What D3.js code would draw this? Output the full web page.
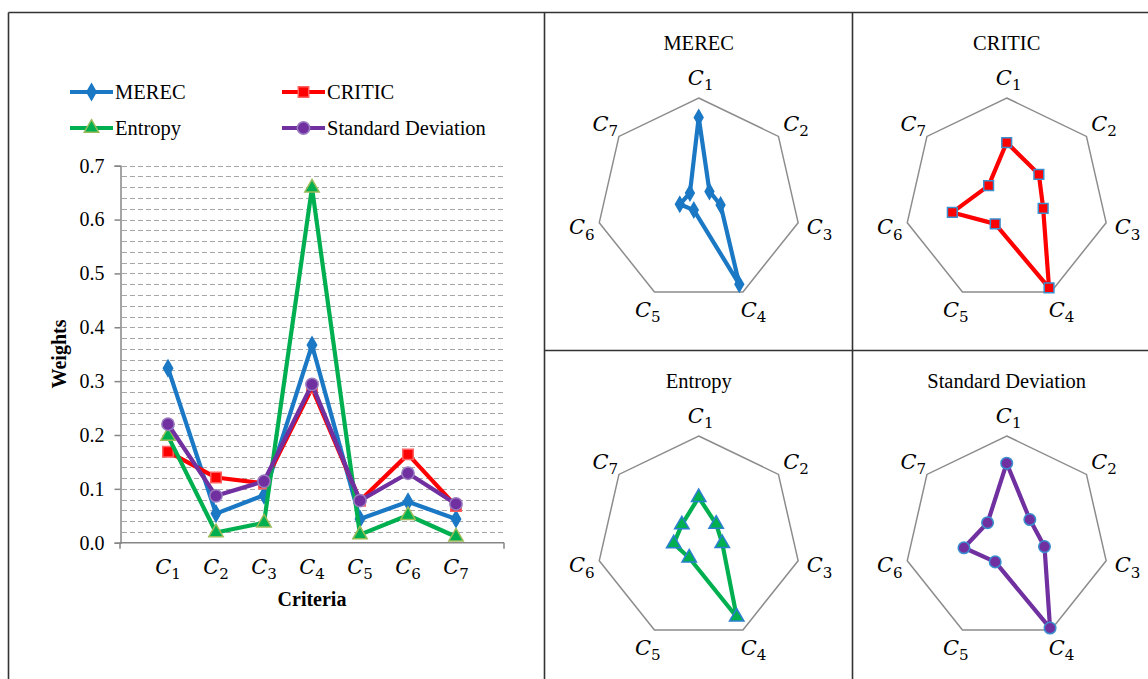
<!DOCTYPE html>
<html><head><meta charset="utf-8">
<script src="https://cdn.jsdelivr.net/npm/d3@7"></script>
<style>
html,body{margin:0;padding:0;background:#fff;}
svg{display:block;}
text{font-family:"Liberation Serif","Times New Roman",serif;fill:#000;}
text.cl{font-family:"DejaVu Serif",serif;}
</style></head>
<body>
<svg id="chart" width="1148" height="679"></svg>
<script>
// ---- data ----
const criteria = ["1","2","3","4","5","6","7"];
const seriesNames = ["MEREC","CRITIC","Entropy","Standard Deviation"];
const merec   = [0.324,0.054,0.088,0.367,0.044,0.076,0.044];
const critic  = [0.169,0.121,0.110,0.287,0.078,0.164,0.068];
const entropy = [0.198,0.019,0.037,0.659,0.015,0.051,0.011];
const stddev  = [0.220,0.087,0.114,0.294,0.078,0.129,0.072];
const yTicks = [0.0,0.1,0.2,0.3,0.4,0.5,0.6,0.7];
const radarMin = [0, 0, -0.2, 0];
const radarMax = [0.4, 0.3, 0.8, 0.3];

// ---- styles ----
const values = [merec, critic, entropy, stddev];
const colors = ["#1b78c4","#ff0000","#00b050","#7030a0"];
const markerStroke = ["#1b78c4","#ff6060","#9bbb59","#9a7cc0"];
const radarMarkerStroke = ["#1b78c4","#3a8fd0","#2a7fd0","#3a8fd0"];
const symbols = [d3.symbolDiamond, d3.symbolSquare, d3.symbolTriangle, d3.symbolCircle];
const symSize = [75, 110, 90, 120];
const radarSymSize = [65, 95, 90, 105];

const svg = d3.select("#chart");

// ---- frame ----
const frame = svg.append("g").attr("stroke","#333").attr("stroke-width",1.6);
frame.append("line").attr("x1",8.5).attr("x2",1148).attr("y1",12.5).attr("y2",12.5);
frame.append("line").attr("x1",8.5).attr("x2",8.5).attr("y1",12.5).attr("y2",679);
frame.append("line").attr("x1",544.5).attr("x2",544.5).attr("y1",12.5).attr("y2",679);
frame.append("line").attr("x1",852.5).attr("x2",852.5).attr("y1",12.5).attr("y2",679);
frame.append("line").attr("x1",544.5).attr("x2",1148).attr("y1",350.5).attr("y2",350.5);

function cLabel(sel, sub, size){
  sel.classed("cl",true);
  sel.append("tspan").attr("font-style","italic").attr("font-size",size).text("C");
  sel.append("tspan").attr("font-size",size*0.72).attr("dy",size*0.26).text(sub);
}

// ---- line chart ----
const x = d3.scalePoint().domain(criteria).range([120,504]).padding(1);
const y = d3.scaleLinear().domain([0,0.7]).range([542.7,165.7]);
const lc = svg.append("g");

// minor dashed gridlines
const minor = d3.range(1,36).map(i=>i*0.02).filter(v=>v<=0.7001);
lc.append("g").selectAll("line").data(minor).join("line")
  .attr("x1",122).attr("x2",504)
  .attr("y1",d=>Math.round(y(d))+0.5).attr("y2",d=>Math.round(y(d))+0.5)
  .attr("stroke","#a6a6a6").attr("stroke-width",1.2).attr("stroke-dasharray","5,3");

// y axis
const yAxis = d3.axisLeft(y).tickValues(yTicks).tickFormat(d3.format(".1f")).tickSize(6).tickPadding(10);
const ya = lc.append("g").attr("transform","translate(120.5,0)").call(yAxis);
ya.select(".domain").attr("stroke","#868686").attr("stroke-width",1.5);
ya.selectAll(".tick line").attr("stroke","#868686").attr("stroke-width",1.5);
ya.selectAll(".tick text").attr("font-size",20).attr("fill","#000");

// x axis line
const xa = lc.append("g");
xa.append("line").attr("x1",120).attr("x2",504).attr("y1",y(0)).attr("y2",y(0)).attr("stroke","#868686").attr("stroke-width",1.5);
xa.selectAll("line.t").data(x.range()).join("line").attr("class","t")
  .attr("x1",d=>d).attr("x2",d=>d).attr("y1",y(0)).attr("y2",y(0)+6).attr("stroke","#868686").attr("stroke-width",1.5);
xa.selectAll("text").data(criteria).join("text")
  .attr("x",d=>x(d)).attr("y",574).attr("text-anchor","middle")
  .each(function(d){cLabel(d3.select(this),d,21);});

lc.append("text").attr("x",312).attr("y",606).attr("text-anchor","middle")
  .attr("font-size",20).attr("font-weight","bold").text("Criteria");
lc.append("text").attr("transform","translate(66,354) rotate(-90)").attr("text-anchor","middle")
  .attr("font-size",20).attr("font-weight","bold").text("Weights");

const line = d3.line().x((d,i)=>x(criteria[i])).y(d=>y(d));
values.forEach((vals,s)=>{
  const g = lc.append("g");
  g.append("path").datum(vals).attr("d",line).attr("fill","none")
    .attr("stroke",colors[s]).attr("stroke-width",4.2).attr("stroke-linejoin","round");
  g.selectAll("path.m").data(vals).join("path").attr("class","m")
    .attr("d",d3.symbol().type(symbols[s]).size(symSize[s]))
    .attr("transform",(d,i)=>`translate(${x(criteria[i])},${y(d)})`)
    .attr("fill",colors[s]).attr("stroke",markerStroke[s]).attr("stroke-width",1.5);
});

// legend
const legPos = [[70,92],[282,92],[70,128],[282,128]];
seriesNames.forEach((name,s)=>{
  const [lx,ly] = legPos[s];
  const g = lc.append("g");
  g.append("line").attr("x1",lx).attr("x2",lx+43).attr("y1",ly).attr("y2",ly)
    .attr("stroke",colors[s]).attr("stroke-width",4.2);
  g.append("path").attr("d",d3.symbol().type(symbols[s]).size(symSize[s]))
    .attr("transform",`translate(${lx+21.5},${ly})`)
    .attr("fill",colors[s]).attr("stroke",markerStroke[s]).attr("stroke-width",1.5);
  g.append("text").attr("x",lx+45).attr("y",ly+7).attr("font-size",20.5).text(name);
});

// ---- radar charts ----
const centers = [[698.7,200],[1006.7,200],[698.7,538],[1006.7,538]];
const R = 102;
const n = criteria.length;
const ang = i => i*2*Math.PI/n;
seriesNames.forEach((name,s)=>{
  const [cx,cy] = centers[s];
  const g = svg.append("g").attr("transform",`translate(${cx},${cy})`);
  const r = d3.scaleLinear().domain([radarMin[s],radarMax[s]]).range([0,R]);
  g.append("text").attr("x",0).attr("y",-150).attr("text-anchor","middle")
    .attr("font-size",20.5).text(name);
  const rim = criteria.map((c,i)=>[R*Math.sin(ang(i)), -R*Math.cos(ang(i))]);
  g.append("polygon").attr("points",rim.map(p=>p.join(",")).join(" "))
    .attr("fill","none").attr("stroke","#8c8c8c").attr("stroke-width",1.5);
  g.selectAll("text.lab").data(criteria).join("text").attr("class","lab")
    .attr("x",(d,i)=>122*Math.sin(ang(i))+2).attr("y",(d,i)=>-122*Math.cos(ang(i))+7)
    .attr("text-anchor","middle")
    .each(function(d){cLabel(d3.select(this),d,21);});
  const rl = d3.lineRadial().angle((d,i)=>ang(i)).radius(d=>r(d)).curve(d3.curveLinearClosed);
  g.append("path").datum(values[s]).attr("d",rl).attr("fill","none")
    .attr("stroke",colors[s]).attr("stroke-width",4.2).attr("stroke-linejoin","round");
  g.selectAll("path.m").data(values[s]).join("path").attr("class","m")
    .attr("d",d3.symbol().type(symbols[s]).size(radarSymSize[s]))
    .attr("transform",(d,i)=>`translate(${r(d)*Math.sin(ang(i))},${-r(d)*Math.cos(ang(i))})`)
    .attr("fill",colors[s]).attr("stroke",radarMarkerStroke[s]).attr("stroke-width",1.5);
});
</script>
</body></html>
